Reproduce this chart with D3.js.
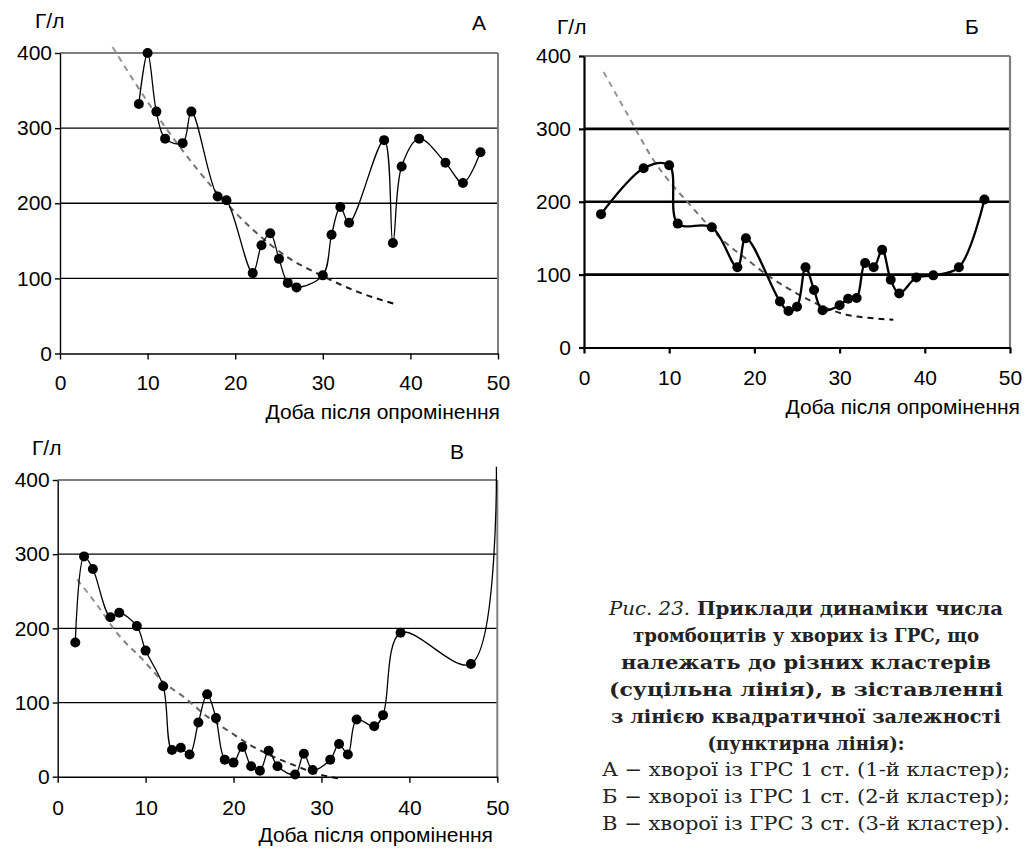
<!DOCTYPE html>
<html><head><meta charset="utf-8">
<script src="https://cdn.jsdelivr.net/npm/d3@7"></script>
<style>body{margin:0;background:#fff} svg{display:block}</style>
</head><body><svg id="c" width="1029" height="850"></svg>
<script>
// ---- data ----
const xTicks = [0, 10, 20, 30, 40, 50];
const yTicks = [0, 100, 200, 300, 400];
const xTitle = "Доба після опромінення";
const yTitle = "Г/л";

const aDays = [9,10,11,12,14,15,18,19,22,23,24,25,26,27,30,31,32,33,37,38,39,41,44,46,48];
const aVals = [332,400,322,286,280,322,209,204,107,144,160,126,94,88,104,158,195,174,284,147,249,286,254,227,268];
const aTrendDays = [6,10,14,18,22,26,30,34,38.2];
const aTrendVals = [408,335,270,213,165,128,103,82,66];

const bDays = [2,7,10,11,15,18,19,23,24,25,26,27,28,30,31,32,33,34,35,36,37,39,41,44,47];
const bVals = [183,246,250,170,165,110,150,63,50,56,110,79,51,58,67,68,116,110,134,93,74,96,99,110,203];
const bTrendDays = [2.3,5,8,12.8,16.5,19,21.8,25,27.7,30.8,34,36.3];
const bTrendVals = [378,322,260,191,145,122,97,74,58,45,40,38];

const vDays = [2,3,4,6,7,9,10,12,13,14,15,16,17,18,19,20,21,22,23,24,25,27,28,29,31,32,33,34,36,37,39,47];
const vVals = [181,297,280,215,221,203,170,122,36,39,30,73,111,79,23,19,40,14,8,35,14,3,31,9,23,44,30,77,68,83,194,152];
const vTailDays = [49.9];
const vTailVals = [418];
const vTrendDays = [2.2,4.2,7,9.5,12,14.5,17,19.5,22,24.5,27,29.5,32.3];
const vTrendVals = [266,236,190,160,128,106,81,61,42,27,15,4,-3];

const panelLetters = ["А", "Б", "В"];

const captionLines = [
  [{t:"Рис. 23.", s:"italic", w:"normal"}, {t:" Приклади динаміки числа", s:"normal", w:"bold"}],
  [{t:"тромбоцитів у хворих із ГРС, що", s:"normal", w:"bold"}],
  [{t:"належать до різних кластерів", s:"normal", w:"bold"}],
  [{t:"(суцільна лінія), в зіставленні", s:"normal", w:"bold"}],
  [{t:"з лінією квадратичної залежності", s:"normal", w:"bold"}],
  [{t:"(пунктирна лінія):", s:"normal", w:"bold"}],
  [{t:"А − хворої із ГРС 1 ст. (1-й кластер);", s:"normal", w:"normal"}],
  [{t:"Б − хворої із ГРС 1 ст. (2-й кластер);", s:"normal", w:"normal"}],
  [{t:"В − хворої із ГРС 3 ст. (3-й кластер).", s:"normal", w:"normal"}]
];
const captionWidths = [394, 346, 370, 394, 390, 197, 408, 408, 408];

// ---- drawing ----
const svg = d3.select("#c");
const defs = svg.append("defs");
const FONT = "'Liberation Sans', Arial, sans-serif";

const panels = [
  {key:"a", left:60, right:498, top:53, bottom:353.5, days:aDays, vals:aVals, tDays:aTrendDays, tVals:aTrendVals,
   letter:panelLetters[0], lw:1.3, gw:1.3, aw:1.4, topw:2, ylabPad:3, xlabPad:15.5,
   yTitleX:35, yTitleY:28, letX:472, letY:30, xTitleX:500, xTitleY:419},
  {key:"b", left:584, right:1010, top:56, bottom:347.5, days:bDays, vals:bVals, tDays:bTrendDays, tVals:bTrendVals,
   letter:panelLetters[1], lw:2.3, gw:2.6, aw:2.2, topw:2.2, ylabPad:8, xlabPad:16.5,
   yTitleX:557, yTitleY:34, letX:965, letY:34, xTitleX:1020, xTitleY:414},
  {key:"v", left:57.7, right:497.3, top:480, bottom:776.7, days:vDays, vals:vVals, tDays:vTrendDays, tVals:vTrendVals,
   tailDays:vTailDays, tailVals:vTailVals,
   letter:panelLetters[2], lw:1.3, gw:1.3, aw:1.4, topw:2, ylabPad:3, xlabPad:17.5,
   yTitleX:32, yTitleY:455, letX:450, letY:459, xTitleX:493, xTitleY:842}
];

panels.forEach(p => {
  const g = svg.append("g");
  const x = d3.scaleLinear().domain([0, 50]).range([p.left, p.right]);
  const y = d3.scaleLinear().domain([0, 400]).range([p.bottom, p.top]);

  // gridlines
  g.selectAll("line.grid").data(yTicks.filter(v => v > 0)).join("line")
    .attr("x1", x(0)).attr("x2", x(50))
    .attr("y1", d => y(d)).attr("y2", d => y(d))
    .attr("stroke", d => d === 400 ? "#7f7f7f" : "#000")
    .attr("stroke-width", d => d === 400 ? p.topw : p.gw);
  // right border
  g.append("line").attr("x1", x(50)).attr("x2", x(50)).attr("y1", y(400)).attr("y2", y(0))
    .attr("stroke", "#7f7f7f").attr("stroke-width", p.topw);

  // axes
  const ax = g.append("g").attr("transform", `translate(0,${y(0)})`)
    .call(d3.axisBottom(x).tickValues(xTicks).tickSizeInner(6).tickSizeOuter(0).tickPadding(p.xlabPad));
  const ay = g.append("g").attr("transform", `translate(${x(0)},0)`)
    .call(d3.axisLeft(y).tickValues(yTicks).tickSizeInner(5).tickSizeOuter(0).tickPadding(p.ylabPad));
  [ax, ay].forEach(a => {
    a.selectAll("path.domain").attr("stroke", "#000").attr("stroke-width", p.aw);
    a.selectAll(".tick line").attr("stroke", "#000").attr("stroke-width", p.aw);
    a.selectAll(".tick text").attr("fill", "#000").style("font-family", FONT).style("font-size", "21px");
  });

  // trend (dashed)
  const gid = "grad_" + p.key;
  const grad = defs.append("linearGradient").attr("id", gid).attr("gradientUnits", "userSpaceOnUse")
    .attr("x1", x(p.tDays[0])).attr("x2", x(p.tDays[p.tDays.length - 1])).attr("y1", 0).attr("y2", 0);
  grad.append("stop").attr("offset", 0).attr("stop-color", "#9a9a9a");
  grad.append("stop").attr("offset", 0.45).attr("stop-color", "#666");
  grad.append("stop").attr("offset", 1).attr("stop-color", "#000");
  const tData = p.tDays.map((d, i) => [d, p.tVals[i]]);
  g.append("path").datum(tData)
    .attr("d", d3.line().x(d => x(d[0])).y(d => y(d[1])).curve(d3.curveMonotoneX))
    .attr("fill", "none").attr("stroke", `url(#${gid})`).attr("stroke-width", 2)
    .attr("stroke-dasharray", "6,5");

  // solid line
  const lData = p.days.map((d, i) => [d, p.vals[i]]);
  if (p.tailDays) p.tailDays.forEach((d, i) => lData.push([d, p.tailVals[i]]));
  g.append("path").datum(lData)
    .attr("d", d3.line().x(d => x(d[0])).y(d => y(d[1])).curve(d3.curveCatmullRom.alpha(0.5)))
    .attr("fill", "none").attr("stroke", "#000").attr("stroke-width", p.lw)
    .attr("stroke-linejoin", "round");

  // markers
  g.selectAll("circle").data(p.days.map((d, i) => [d, p.vals[i]])).join("circle")
    .attr("cx", d => x(d[0])).attr("cy", d => y(d[1])).attr("r", 5).attr("fill", "#000");

  // titles
  const txt = (t, xx, yy, anchor) => g.append("text").text(t).attr("x", xx).attr("y", yy)
    .attr("text-anchor", anchor).style("font-family", FONT).style("font-size", "21px").attr("fill", "#000");
  txt(yTitle, p.yTitleX, p.yTitleY, "start");
  txt(p.letter, p.letX, p.letY, "start");
  txt(xTitle, p.xTitleX, p.xTitleY, "end");
});

// caption
const cap = svg.append("g");
const capX = 806, capY0 = 615, capDy = 26.9;
captionLines.forEach((line, i) => {
  const t = cap.append("text").attr("x", capX).attr("y", capY0 + i * capDy)
    .attr("text-anchor", "middle")
    .attr("textLength", captionWidths[i]).attr("lengthAdjust", "spacingAndGlyphs")
    .style("font-family", "'DejaVu Serif', 'Liberation Serif', serif").style("font-size", "19px").attr("fill", "#222");
  line.forEach(seg => t.append("tspan").text(seg.t).style("font-style", seg.s).style("font-weight", seg.w));
});
</script>
</body></html>
